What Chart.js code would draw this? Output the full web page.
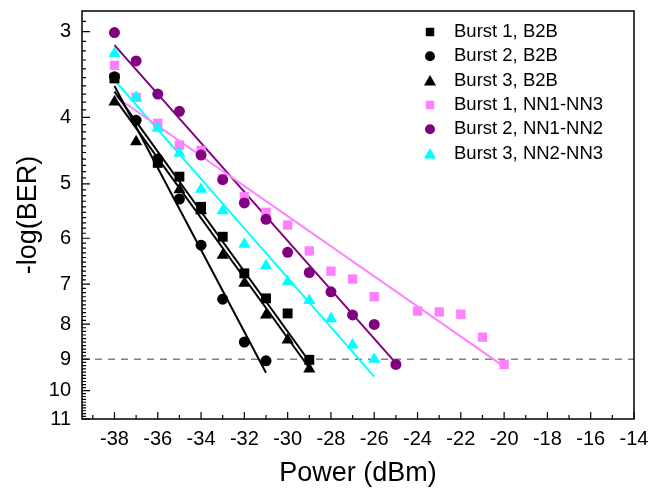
<!DOCTYPE html>
<html>
<head>
<meta charset="utf-8">
<script src="https://cdn.jsdelivr.net/npm/chart.js@4/dist/chart.umd.min.js"></script>
<style>
  body { margin: 0; background: #fff; }
  #wrap { width: 668px; height: 492px; }
</style>
</head>
<body>
<div id="wrap"><canvas id="myChart" width="668" height="492"></canvas></div>
<script>
// Tick labels
const xTicks = [-38, -36, -34, -32, -30, -28, -26, -24, -22, -20, -18, -16, -14];
const yTicks = [3, 4, 5, 6, 7, 8, 9, 10, 11];

// Measured points: power (dBm) and -log(BER)
const powerB1B2B = [-38, -36, -35, -34, -33, -32, -31, -30, -29];
const berB1B2B   = [3.51, 4.66, 4.88, 5.40, 5.97, 6.75, 7.34, 7.72, 9.02];

const powerB2B2B = [-38, -37, -36, -35, -34, -33, -32, -31];
const berB2B2B   = [3.49, 4.04, 4.60, 5.26, 6.14, 7.36, 8.50, 9.05];

const powerB3B2B = [-38, -37, -35, -34, -33, -32, -31, -30, -29];
const berB3B2B   = [3.80, 4.34, 5.10, 5.47, 6.35, 6.98, 7.76, 8.44, 9.30];

const powerB1NN = [-38, -37, -36, -35, -34, -33, -32, -31, -30, -29, -28, -27, -26, -24, -23, -22, -21, -20];
const berB1NN   = [3.36, 3.74, 4.08, 4.39, 4.47, 4.91, 5.22, 5.50, 5.74, 6.26, 6.70, 6.88, 7.30, 7.66, 7.68, 7.74, 8.36, 9.16];

const powerB2NN = [-38, -37, -36, -35, -34, -33, -32, -31, -30, -29, -28, -27, -26, -25];
const berB2NN   = [3.01, 3.31, 3.70, 3.92, 4.54, 4.93, 5.33, 5.63, 6.29, 6.73, 7.18, 7.76, 8.01, 9.16];

const powerB3NN = [-38, -37, -36, -35, -34, -33, -32, -31, -30, -29, -28, -27, -26];
const berB3NN   = [3.23, 3.74, 4.15, 4.51, 5.09, 5.47, 6.12, 6.58, 6.94, 7.39, 7.86, 8.58, 9.00];

// Fit lines (end points)
const fitPowerB1B2B = [-38, -29]; const fitBerB1B2B = [3.67, 9.07];
const fitPowerB2B2B = [-38, -31]; const fitBerB2B2B = [3.60, 9.42];
const fitPowerB3B2B = [-38, -29]; const fitBerB3B2B = [3.75, 9.27];
const fitPowerB1NN  = [-38, -20]; const fitBerB1NN  = [3.72, 9.23];
const fitPowerB2NN  = [-38, -25]; const fitBerB2NN  = [3.14, 9.12];
const fitPowerB3NN  = [-38, -26]; const fitBerB3NN  = [3.53, 9.54];

// BER threshold line
const limitPower = [-39.5, -14];
const limitBer = [9, 9];

const FONT = 'Liberation Sans, Arial, sans-serif';
const toXY = (xs, ys) => xs.map((x, i) => ({ x: x, y: ys[i] }));

const series = [
  { label: 'Burst 1, B2B',     xs: powerB1B2B, ys: berB1B2B, color: '#000000', style: 'rect',     r: 7,   order: 6 },
  { label: 'Burst 2, B2B',     xs: powerB2B2B, ys: berB2B2B, color: '#000000', style: 'circle',   r: 5.5, order: 5 },
  { label: 'Burst 3, B2B',     xs: powerB3B2B, ys: berB3B2B, color: '#000000', style: 'triangle', r: 7,   order: 4 },
  { label: 'Burst 1, NN1-NN3', xs: powerB1NN,  ys: berB1NN,  color: '#ff80ff', style: 'rect',     r: 6.6, order: 3 },
  { label: 'Burst 2, NN1-NN2', xs: powerB2NN,  ys: berB2NN,  color: '#800080', style: 'circle',   r: 5.5, order: 2 },
  { label: 'Burst 3, NN2-NN3', xs: powerB3NN,  ys: berB3NN,  color: '#00ffff', style: 'triangle', r: 7,   order: 1 }
];

const fits = [
  { xs: fitPowerB1B2B, ys: fitBerB1B2B, color: '#000000' },
  { xs: fitPowerB2B2B, ys: fitBerB2B2B, color: '#000000' },
  { xs: fitPowerB3B2B, ys: fitBerB3B2B, color: '#000000' },
  { xs: fitPowerB1NN,  ys: fitBerB1NN,  color: '#ff80ff' },
  { xs: fitPowerB2NN,  ys: fitBerB2NN,  color: '#800080' },
  { xs: fitPowerB3NN,  ys: fitBerB3NN,  color: '#00ffff' }
];

const datasets = [];
series.forEach(s => {
  datasets.push({
    label: s.label,
    data: toXY(s.xs, s.ys),
    showLine: false,
    pointStyle: s.style,
    pointRadius: s.r,
    pointHoverRadius: s.r,
    pointBackgroundColor: s.color,
    pointBorderColor: s.color,
    pointBorderWidth: 0,
    order: s.order
  });
});
fits.forEach((f, i) => {
  datasets.push({
    label: 'fit' + i,
    data: toXY(f.xs, f.ys),
    showLine: true,
    borderColor: f.color,
    borderWidth: 2,
    pointRadius: 0,
    order: 10 + i
  });
});
datasets.push({
  label: 'limit',
  data: toXY(limitPower, limitBer),
  showLine: true,
  borderColor: '#808080',
  borderWidth: 1.5,
  borderDash: [7, 6],
  pointRadius: 0,
  order: 20
});

// simple marker drawing for the legend
function drawMarker(ctx, style, x, y, r, color) {
  ctx.save();
  ctx.fillStyle = color;
  ctx.beginPath();
  if (style === 'rect') {
    const h = r * Math.SQRT1_2;
    ctx.rect(x - h, y - h, 2 * h, 2 * h);
  } else if (style === 'circle') {
    ctx.arc(x, y, r, 0, Math.PI * 2);
  } else {
    ctx.moveTo(x, y - r);
    ctx.lineTo(x + r * Math.sin(Math.PI / 3), y + r / 2);
    ctx.lineTo(x - r * Math.sin(Math.PI / 3), y + r / 2);
    ctx.closePath();
  }
  ctx.fill();
  ctx.restore();
}

// frame, inward ticks and legend
const framePlugin = {
  id: 'frame',
  afterDraw(chart) {
    const { ctx, chartArea: a, scales: { x, y } } = chart;
    ctx.save();
    ctx.strokeStyle = '#000';
    ctx.lineWidth = 1.5;
    ctx.strokeRect(a.left, a.top, a.right - a.left, a.bottom - a.top);

    ctx.lineWidth = 1.2;
    ctx.beginPath();
    for (let v = -39; v <= -14; v++) {
      const px = x.getPixelForValue(v);
      const len = (v % 2 === 0) ? 7 : 4;
      ctx.moveTo(px, a.bottom);
      ctx.lineTo(px, a.bottom - len);
    }
    for (let k = 29; k <= 110; k++) {
      const v = k / 10;
      const px = y.getPixelForValue(v);
      const len = (k % 10 === 0) ? 8 : 4;
      ctx.moveTo(a.left, px);
      ctx.lineTo(a.left + len, px);
    }
    ctx.stroke();

    // legend
    ctx.font = '18.5px ' + FONT;
    ctx.fillStyle = '#000';
    ctx.textBaseline = 'middle';
    ctx.textAlign = 'left';
    series.forEach((s, i) => {
      const ly = 32 + i * 24.3;
      const r = s.style === 'rect' ? 6 : (s.style === 'circle' ? 5 : 7);
      drawMarker(ctx, s.style, 430, s.style === 'triangle' ? ly + 1.5 : ly, r, s.color);
      ctx.fillText(s.label, 454, ly);
    });
    ctx.restore();
  }
};

const ctx = document.getElementById('myChart').getContext('2d');
const myChart = new Chart(ctx, {
  type: 'scatter',
  data: { datasets: datasets },
  options: {
    responsive: false,
    animation: false,
    events: [],
    layout: { padding: { top: 11, right: 34, left: 0, bottom: 0 } },
    scales: {
      x: {
        type: 'linear',
        min: -39.5,
        max: -14,
        afterBuildTicks: (scale) => { scale.ticks = xTicks.map(v => ({ value: v })); },
        afterFit: (scale) => {
          scale.height = 73;
          scale.paddingLeft = 0;
          scale.paddingRight = 0;
        },
        grid: { display: false, drawTicks: false },
        border: { display: false },
        ticks: {
          color: '#000',
          padding: 8,
          maxRotation: 0,
          font: { family: FONT, size: 20 },
          callback: (v) => String(v)
        },
        title: {
          display: true,
          text: 'Power (dBm)',
          color: '#000',
          font: { family: FONT, size: 27 },
          padding: { bottom: 2, top: 0 }
        }
      },
      y: {
        type: 'logarithmic',
        reverse: true,
        min: 2.8,
        max: 11,
        afterBuildTicks: (scale) => { scale.ticks = yTicks.map(v => ({ value: v })); },
        afterFit: (scale) => {
          scale.width = 82;
          scale.paddingTop = 0;
          scale.paddingBottom = 0;
        },
        grid: { display: false, drawTicks: false },
        border: { display: false },
        ticks: {
          color: '#000',
          padding: 11,
          font: { family: FONT, size: 20 },
          callback: (v) => String(v)
        },
        title: {
          display: true,
          text: '-log(BER)',
          color: '#000',
          font: { family: FONT, size: 27 },
          padding: { top: 12, bottom: 0 }
        }
      }
    },
    plugins: {
      legend: { display: false },
      tooltip: { enabled: false }
    }
  },
  plugins: [framePlugin]
});
</script>
</body>
</html>
